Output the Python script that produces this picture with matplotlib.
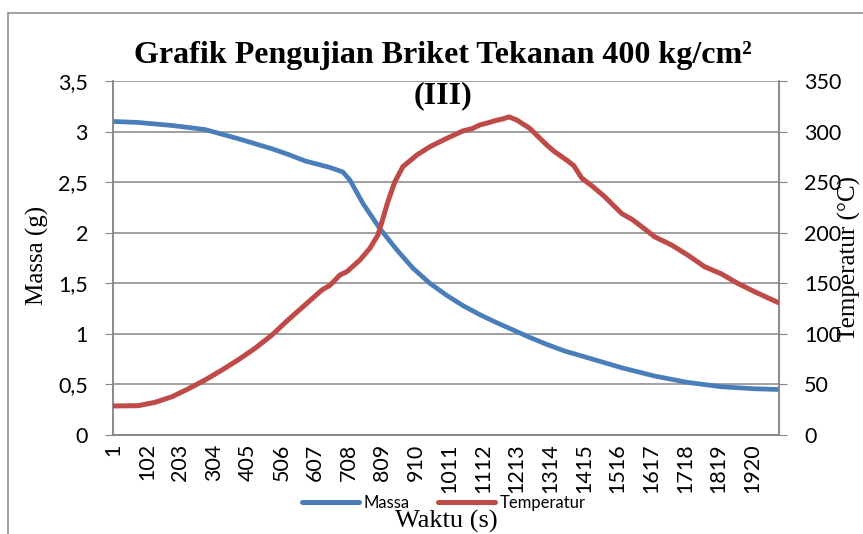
import numpy as np
import matplotlib.pyplot as plt
from matplotlib.lines import Line2D
from matplotlib.patches import Rectangle

# data (x = sample index, "Waktu")
waktu_massa = [1, 76, 178, 277, 376, 478, 530, 577, 652, 691, 712, 751, 802, 853, 901,
               952, 1003, 1051, 1102, 1153, 1201, 1252, 1303, 1357, 1426, 1528,
               1627, 1726, 1828, 1927, 1999]
massa = [3.10, 3.09, 3.06, 3.02, 2.93, 2.83, 2.77, 2.71, 2.645, 2.60, 2.52, 2.29, 2.04,
         1.83, 1.65, 1.50, 1.38, 1.28, 1.19, 1.11, 1.04, 0.965, 0.896, 0.83, 0.764,
         0.665, 0.583, 0.52, 0.477, 0.457, 0.45]

waktu_temp = [1, 76, 127, 178, 226, 277, 328, 376, 427, 478, 526, 577, 628, 652, 682,
              703, 742, 772, 796, 811, 826, 847, 871, 913, 952, 1003, 1051, 1080, 1102,
              1130, 1150, 1171, 1190, 1213, 1252, 1303, 1327, 1366, 1385, 1408, 1440,
              1477, 1528, 1560, 1588, 1627, 1678, 1726, 1777, 1828, 1876, 1927, 1999]
temperatur = [28.7, 29, 32.3, 37.9, 45.5, 54.4, 64.3, 74.2, 85.7, 98.9, 113.7, 128.5,
              143.4, 148, 158.2, 161.5, 173, 184.6, 197.7, 214, 230.7, 250.4, 265.3,
              276.8, 285, 293.3, 300.6, 303, 306.5, 309, 311, 312.5, 314.5, 311.4, 303.2,
              286.7, 280, 271, 266, 254, 246, 235.6, 219, 213, 206, 196, 187.8, 178,
              166.4, 159.2, 150, 141.7, 130.8]

xtick_pos = list(range(1, 2000, 101))
xtick_lab = [str(v) for v in xtick_pos]
y1_ticks = [0, 0.5, 1, 1.5, 2, 2.5, 3, 3.5]
y1_lab = ['0', '0,5', '1', '1,5', '2', '2,5', '3', '3,5']
y2_ticks = [0, 50, 100, 150, 200, 250, 300, 350]

biru = '#4A7EBB'
merah = '#BE4B48'
abu = '#868686'
tick_font = 'Lato'
serif = 'Liberation Serif'

fig = plt.figure(figsize=(8.63, 5.34), dpi=100)
ax = fig.add_axes([113/863, 1 - 435/534, 666/863, 354/534])
ax2 = ax.twinx()

ax.plot(waktu_massa, massa, color=biru, lw=3.4, solid_capstyle='round', zorder=3)
ax2.plot(waktu_temp, temperatur, color=merah, lw=3.6, solid_capstyle='round', zorder=3)

ax.set_xlim(0.5, 2000.5)
ax.set_ylim(0, 3.5)
ax2.set_ylim(0, 350)

ax.set_yticks(y1_ticks)
ax.set_yticklabels(y1_lab, fontfamily=tick_font, fontsize=15.5)
ax2.set_yticks(y2_ticks)
ax2.set_yticklabels([str(v) for v in y2_ticks], fontfamily=tick_font, fontsize=15.5)
ax.set_xticks(xtick_pos)
ax.set_xticklabels(xtick_lab, rotation=90, fontfamily=tick_font, fontsize=15.5)

ax.grid(axis='y', color=abu, lw=1.1)
ax.set_axisbelow(True)
ax.tick_params(axis='x', length=0, pad=6)
ax.tick_params(axis='y', length=6, color=abu, pad=12)
ax2.tick_params(axis='y', length=6, color=abu, pad=12)
for a in (ax, ax2):
    for s in a.spines.values():
        s.set_color(abu)
        s.set_linewidth(1.1)
    a.spines['top'].set_visible(False)

# judul & label sumbu
fig.text(443/863, 1 - 63.5/534, 'Grafik Pengujian Briket Tekanan 400 kg/cm²',
         ha='center', va='baseline', fontfamily=serif, fontweight='bold', fontsize=23)
fig.text(443/863, 1 - 103/534, '(III)', ha='center', va='baseline',
         fontfamily=serif, fontweight='bold', fontsize=23)
fig.text(37/863, 1 - 255/534, 'Massa (g)', rotation=90, ha='center', va='center',
         fontfamily=serif, fontsize=18)
fig.text(849/863, 1 - 258/534, 'Temperatur (°C)', rotation=90, ha='center',
         va='center', fontfamily=serif, fontsize=18)
fig.text(446/863, 1 - 521/534, 'Waktu (s)', ha='center', va='center',
         fontfamily=serif, fontsize=19)

handles = [Line2D([], [], color=biru, lw=3.6, solid_capstyle='round'),
           Line2D([], [], color=merah, lw=3.6, solid_capstyle='round')]
leg = fig.legend(handles, ['Massa', 'Temperatur'], loc='center',
                 bbox_to_anchor=(444/863, 1 - 503/534), ncol=2, frameon=False,
                 handlelength=3.4, handletextpad=0.3, columnspacing=1.7,
                 prop={'family': tick_font, 'size': 12})

# bingkai luar chart
fig.patches.append(Rectangle((8/863, -0.2), 1.2, 1 - 13/534 + 0.2,
                             transform=fig.transFigure, fill=False,
                             edgecolor=abu, lw=1.1))

fig.savefig('out.png', dpi=100)
